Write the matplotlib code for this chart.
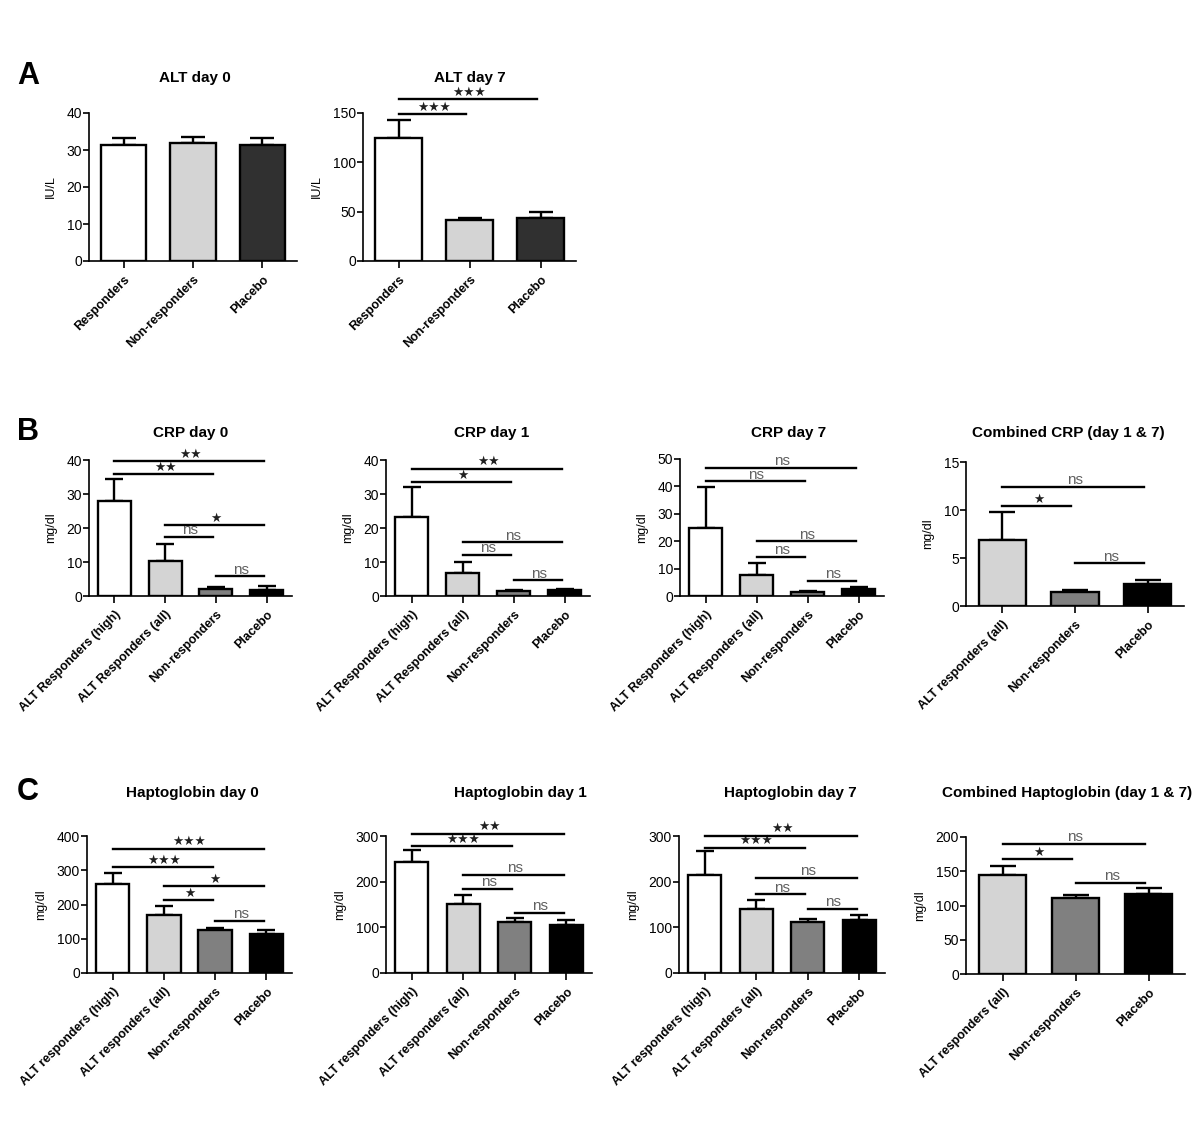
import numpy as np
import matplotlib.pyplot as plt

plt.rcParams['font.family'] = ['Liberation Sans', 'DejaVu Sans']

W, H = 1200, 1130

# group names
grp_alt = ['Responders', 'Non-responders', 'Placebo']
grp_crp = ['ALT Responders (high)', 'ALT Responders (all)', 'Non-responders', 'Placebo']
grp_crp_comb = ['ALT responders (all)', 'Non-responders', 'Placebo']
grp_hap = ['ALT responders (high)', 'ALT responders (all)', 'Non-responders', 'Placebo']
grp_hap_comb = ['ALT responders (all)', 'Non-responders', 'Placebo']

# means and upper error (SEM)
alt_d0 = [31.3, 31.9, 31.3]
alt_d0_err = [2.0, 1.6, 2.0]
alt_d7 = [125, 42, 44]
alt_d7_err = [18, 2, 6]

crp_d0 = [28.0, 10.4, 2.1, 1.9]
crp_d0_err = [6.4, 4.9, 0.45, 0.95]
crp_d1 = [23.3, 6.7, 1.6, 1.8]
crp_d1_err = [8.7, 3.2, 0.3, 0.4]
crp_d7 = [24.8, 7.5, 1.5, 2.7]
crp_d7_err = [14.9, 4.4, 0.5, 0.5]
crp_comb = [6.85, 1.47, 2.27]
crp_comb_err = [2.9, 0.23, 0.43]

hap_d0 = [260.5, 169.5, 125, 115]
hap_d0_err = [32, 26, 6.7, 10]
hap_d1 = [244, 151.8, 112.6, 106]
hap_d1_err = [26, 18.2, 8, 9.5]
hap_d7 = [215.5, 139.8, 110.7, 116.5]
hap_d7_err = [51, 20.2, 8, 11.5]
hap_comb = [144.7, 110.7, 117.5]
hap_comb_err = [12.6, 4.3, 7.7]

# significance brackets: (from group, to group, height, label)
sig_alt_d7 = [(0, 1, 149, '***'), (0, 2, 164, '***')]
sig_crp_d0 = [(0, 3, 39.7, '**'), (0, 2, 35.8, '**'), (1, 3, 20.8, '*'),
              (1, 2, 17.3, 'ns'), (2, 3, 5.8, 'ns')]
sig_crp_d1 = [(0, 3, 37.5, '**'), (0, 2, 33.4, '*'), (1, 3, 15.8, 'ns'),
              (1, 2, 12.0, 'ns'), (2, 3, 4.6, 'ns')]
sig_crp_d7 = [(0, 3, 46.8, 'ns'), (0, 2, 41.8, 'ns'), (1, 3, 19.9, 'ns'),
              (1, 2, 14.3, 'ns'), (2, 3, 5.4, 'ns')]
sig_crp_comb = [(0, 2, 12.4, 'ns'), (0, 1, 10.4, '*'), (1, 2, 4.45, 'ns')]
sig_hap_d0 = [(0, 3, 363, '***'), (0, 2, 309, '***'), (1, 3, 254, '*'),
              (1, 2, 212, '*'), (2, 3, 153, 'ns')]
sig_hap_d1 = [(0, 3, 305, '**'), (0, 2, 277.5, '***'), (1, 3, 214, 'ns'),
              (1, 2, 184, 'ns'), (2, 3, 132, 'ns')]
sig_hap_d7 = [(0, 3, 300.7, '**'), (0, 2, 274.5, '***'), (1, 3, 208, 'ns'),
              (1, 2, 172, 'ns'), (2, 3, 140.5, 'ns')]
sig_hap_comb = [(0, 2, 190, 'ns'), (0, 1, 167.5, '*'), (1, 2, 133.5, 'ns')]

col3_alt = ['white', '#d4d4d4', '#303030']
col4 = ['white', '#d4d4d4', '#808080', 'black']
col3 = ['#d4d4d4', '#808080', 'black']

# title, title centre (px), axes box (x0, x1, ytop, ybottom px), groups, values, errors,
# colours, ymax, tick step, y label, brackets
panels = [
    ('ALT day 0', (195, 78), (89, 297, 113, 261), grp_alt, alt_d0, alt_d0_err, col3_alt, 40, 10, 'IU/L', []),
    ('ALT day 7', (470, 78), (363, 576, 113, 261), grp_alt, alt_d7, alt_d7_err, col3_alt, 150, 50, 'IU/L', sig_alt_d7),
    ('CRP day 0', (191, 433), (89, 292, 460, 596), grp_crp, crp_d0, crp_d0_err, col4, 40, 10, 'mg/dl', sig_crp_d0),
    ('CRP day 1', (492, 433), (386, 590, 460, 596), grp_crp, crp_d1, crp_d1_err, col4, 40, 10, 'mg/dl', sig_crp_d1),
    ('CRP day 7', (789, 433), (680, 884, 459, 596), grp_crp, crp_d7, crp_d7_err, col4, 50, 10, 'mg/dl', sig_crp_d7),
    ('Combined CRP (day 1 & 7)', (1068, 433), (966, 1184, 462, 606), grp_crp_comb, crp_comb, crp_comb_err, col3, 15, 5, 'mg/dl', sig_crp_comb),
    ('Haptoglobin day 0', (192, 793), (87, 292, 836, 973), grp_hap, hap_d0, hap_d0_err, col4, 400, 100, 'mg/dl', sig_hap_d0),
    ('Haptoglobin day 1', (520, 793), (386, 592, 836, 973), grp_hap, hap_d1, hap_d1_err, col4, 300, 100, 'mg/dl', sig_hap_d1),
    ('Haptoglobin day 7', (790, 793), (679, 885, 836, 973), grp_hap, hap_d7, hap_d7_err, col4, 300, 100, 'mg/dl', sig_hap_d7),
    ('Combined Haptoglobin (day 1 & 7)', (1067, 793), (966, 1185, 837, 974), grp_hap_comb, hap_comb, hap_comb_err, col3, 200, 50, 'mg/dl', sig_hap_comb),
]

fig = plt.figure(figsize=(W / 100, H / 100), dpi=100)

for title, (tx, ty), (x0, x1, yt, yb), groups, vals, errs, cols, ymax, step, ylab, sig in panels:
    ax = fig.add_axes([x0 / W, 1 - yb / H, (x1 - x0) / W, (yb - yt) / H])
    n = len(groups)
    x = np.arange(n)
    bar_px = (x1 - x0) / n * 0.65
    ax.bar(x, vals, width=0.65, color=cols, edgecolor='black', linewidth=1.7, zorder=3)
    ax.errorbar(x, vals, yerr=[np.zeros(n), errs], fmt='none', ecolor='black',
                elinewidth=1.7, capthick=1.7, capsize=bar_px * 0.27 * 0.72, zorder=2)
    ax.set_xlim(-0.5, n - 0.5)
    ax.set_ylim(0, ymax)
    ax.set_yticks(np.arange(0, ymax + step / 2, step))
    ax.set_xticks(x)
    ax.set_xticklabels(groups, rotation=45, ha='right', va='top', rotation_mode='anchor',
                       fontsize=9, fontweight='bold')
    ax.tick_params(axis='y', labelsize=10, length=4, width=1.2, pad=1)
    ax.tick_params(axis='x', length=5, width=1.2, pad=4)
    ax.set_ylabel(ylab, fontsize=9, labelpad=7)
    for s in ['top', 'right']:
        ax.spines[s].set_visible(False)
    for s in ['left', 'bottom']:
        ax.spines[s].set_linewidth(1.2)

    for i, j, h, lab in sig:
        ax.plot([i, j - 0.05], [h, h], color='black', lw=1.7, clip_on=False, zorder=4)
        xc = (i + j) / 2
        if lab == 'ns':
            ax.annotate(lab, (xc, h), xytext=(0, 2), textcoords='offset points',
                        ha='center', va='baseline', fontsize=11, color='#606060',
                        annotation_clip=False)
        else:
            stars = '\u2605' * len(lab)
            ax.annotate(stars, (xc, h), xytext=(0, 2.5), textcoords='offset points',
                        ha='center', va='baseline', fontsize=9, color='#202020',
                        family='DejaVu Sans', annotation_clip=False)

    fig.text(tx / W, 1 - ty / H, title, ha='center', va='center', fontsize=11, fontweight='bold')

for lab, ly in [('A', 76), ('B', 432), ('C', 792)]:
    fig.text(28 / W, 1 - ly / H, lab, ha='center', va='center', fontsize=22, fontweight='bold')

fig.savefig('out.png', dpi=100, facecolor='white')
